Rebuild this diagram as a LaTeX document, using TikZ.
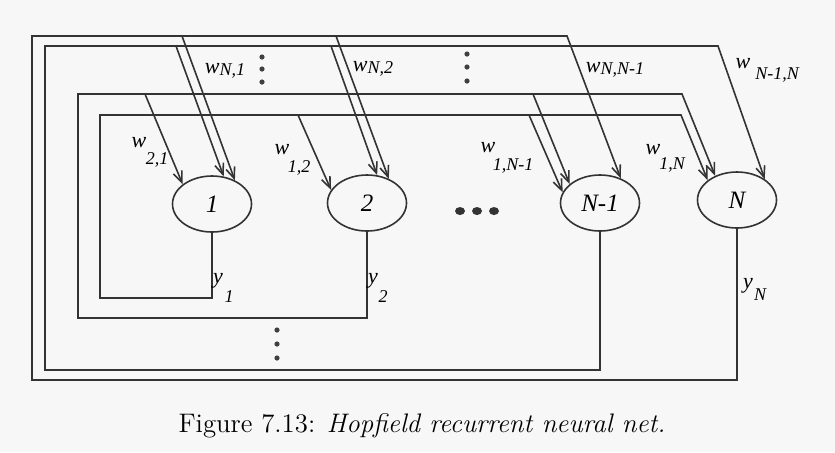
\documentclass[tikz,border=0pt]{standalone}
\usepackage{fontspec}
\newfontfamily\labfont{Liberation Serif}
\usetikzlibrary{arrows.meta,shapes.geometric}
\newcommand{\wlab}[1]{w\raisebox{-0.2ex}{\fontsize{9}{9}\selectfont #1}}
\tikzset{
  wire/.style={line width=0.8pt,draw=black!80},
  syn/.style={wire,-{Straight Barb[length=5.5pt,width=4.5pt]}},
  neuron/.style={wire,ellipse,minimum width=39.5pt,minimum height=28pt,inner sep=0pt,
    font=\labfont\itshape\fontsize{12.5}{12.5}\selectfont},
  wtxt/.style={inner sep=0pt,font=\labfont\itshape\fontsize{11}{11}\selectfont},
  subtxt/.style={inner sep=0pt,font=\labfont\itshape\fontsize{9}{9}\selectfont},
}
\begin{document}
\begin{tikzpicture}[x=0.5pt,y=-0.5pt]
\useasboundingbox[fill=black!3] (0,0) rectangle (835,452);
\node[neuron] (n1) at (212,204) {1};
\node[neuron] (n2) at (367,203) {2};
\node[neuron] (nm) at (600,203) {N-1};
\node[neuron] (nN) at (737,200) {N};
\coordinate (b1) at (100,298); \coordinate (t1) at (681,115);
\coordinate (b2) at (78,318);  \coordinate (t2) at (682,94);
\coordinate (bm) at (45,370);  \coordinate (tm) at (718,46);
\coordinate (bN) at (32,380);  \coordinate (tN) at (567,36);
\draw[syn] (n1.south) |- (b1) |- (t1) -- (nN.146);
\draw[syn] (n2.south) |- (b2) |- (t2) -- (nN.132);
\draw[syn] (nm.south) |- (bm) |- (tm) -- (nN.37);
\draw[syn] (nN.south) |- (bN) |- (tN) -- (nm.50);
\coordinate (s12) at (298,115); \coordinate (s1m) at (529,115);
\coordinate (s21) at (145,94);  \coordinate (s2m) at (533,94);
\coordinate (sm1) at (176,46);  \coordinate (sm2) at (331,46);
\coordinate (sN1) at (182,36);  \coordinate (sN2) at (336,36);
\draw[syn] (s12) -- (n2.160);
\draw[syn] (s1m) -- (nm.164);
\draw[syn] (s21) -- (n1.146);
\draw[syn] (s2m) -- (nm.148);
\draw[syn] (sm1) -- (n1.67);
\draw[syn] (sm2) -- (n2.70);
\draw[syn] (sN1) -- (n1.46);
\draw[syn] (sN2) -- (n2.48);
\node[wtxt] (wN1) at (225,71) {\wlab{N,1}};
\node[wtxt] (wN2) at (373,69) {\wlab{N,2}};
\node[wtxt] (wNm) at (615,70) {\wlab{N,N-1}};
\node[wtxt] (wmN) at (743,64) {w};
\node[subtxt] (wmNs) at (777,75) {N-1,N};
\node[wtxt] (w21) at (139,143) {w};
\node[subtxt] (w21s) at (157,160) {2,1};
\node[wtxt] (w12) at (282,150) {w};
\node[subtxt] (w12s) at (299,168) {1,2};
\node[wtxt] (w1m) at (488,148) {w};
\node[subtxt] (w1ms) at (513,166) {1,N-1};
\node[wtxt] (w1N) at (653,150) {w};
\node[subtxt] (w1Ns) at (672,165) {1,N};
\node[wtxt] (y1) at (218,281) {y};
\node[subtxt] (y1s) at (229,297) {1};
\node[wtxt] (y2) at (373,281) {y};
\node[subtxt] (y2s) at (383,297) {2};
\node[wtxt] (yN) at (748,286) {y};
\node[subtxt] (yNs) at (760,295) {N};
\foreach \y in {57,69,82} \fill[black!75] (262,\y) circle (1.3pt);
\foreach \y in {54,67,81} \fill[black!75] (467,\y) circle (1.3pt);
\foreach \y in {330,344,358} \fill[black!75] (277,\y) circle (1.3pt);
\foreach \x in {460,477,494} \fill[black!80] (\x,211) ellipse (2.5pt and 2pt);
\node[anchor=base,font=\fontsize{13.4}{15}\selectfont] (cap) at (422,432)
  {Figure 7.13: \textit{Hopfield recurrent neural net.}};
\end{tikzpicture}
\end{document}
